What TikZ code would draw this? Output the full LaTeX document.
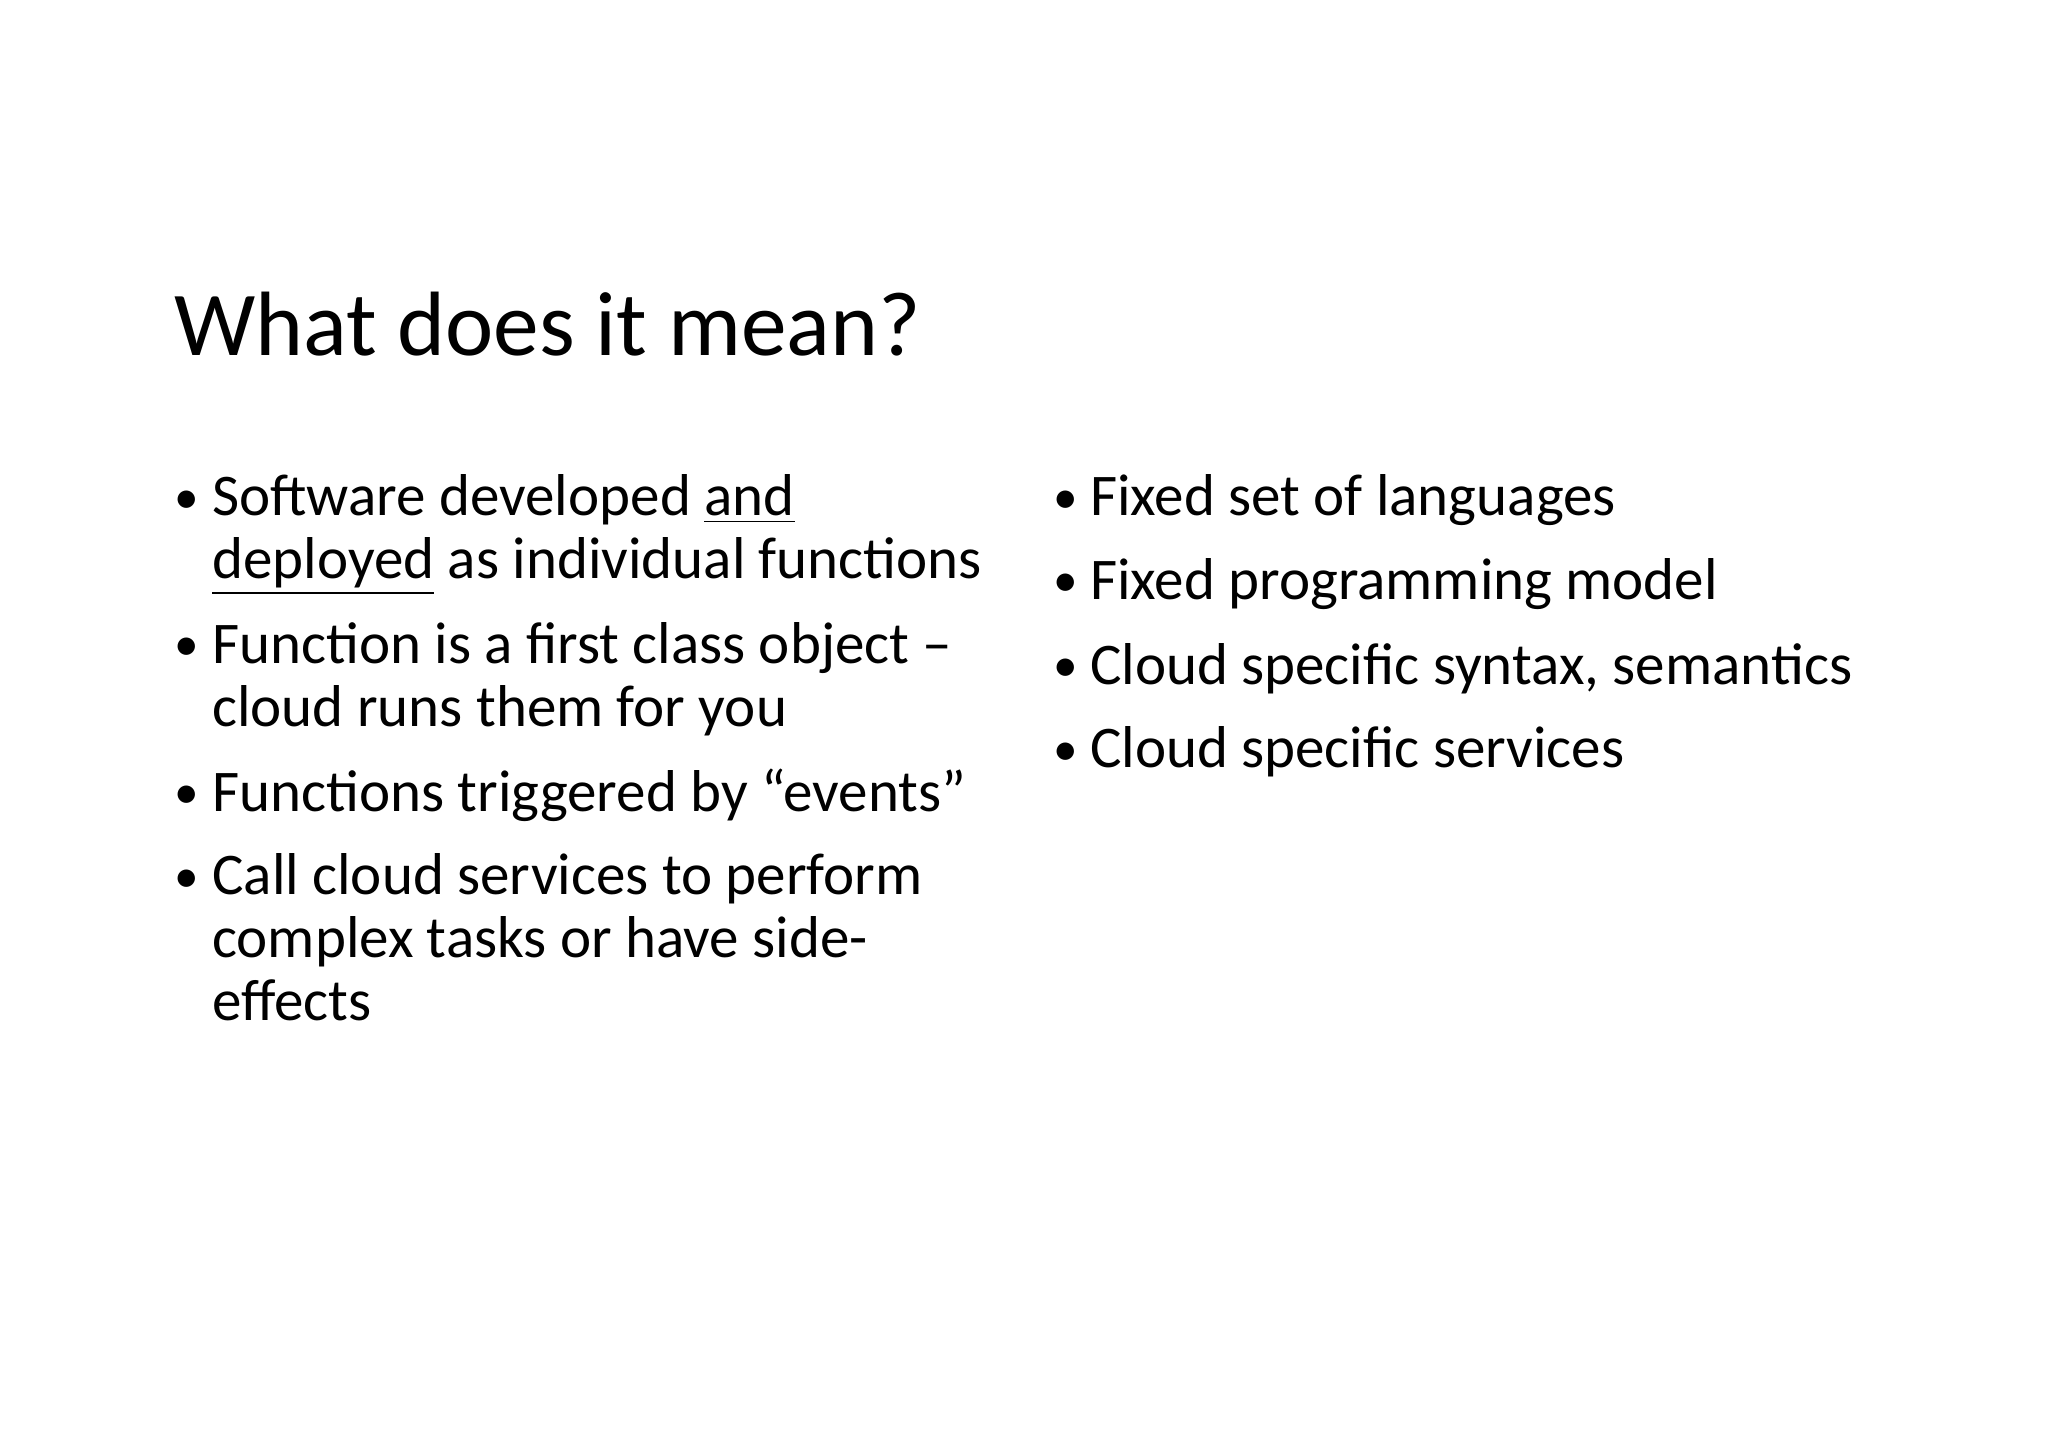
\documentclass[tikz,border=0pt]{standalone}
\usepackage{fontspec}
\setmainfont{Carlito}
\begin{document}
\begin{tikzpicture}[x=0.013061cm,y=-0.013061cm,
  txt/.style={anchor=base west,inner sep=0pt,font=\fontsize{16.8}{16.8}\selectfont},
  bul/.style={anchor=base west,inner sep=0pt,font=\fontsize{14}{14}\selectfont},
  ttl/.style={anchor=base west,inner sep=0pt,font=\fontsize{26}{26}\selectfont}]
\useasboundingbox[fill=white] (0,0) rectangle (1568,1109.4);
\node[ttl] (title) at (133,272) {What does it mean?};
\foreach \n/\y in {b1/393,b2/506,b3/619,b4/683}{\node[bul] (\n) at (133,\y) {•};}
\node[txt] (l1) at (162,395) {Software developed \underline{and}};
\node[txt] (l2) at (162,443) {\underline{deployed} as individual functions};
\node[txt] (l3) at (162,508) {Function is a first class object –};
\node[txt] (l4) at (162,556) {cloud runs them for you};
\node[txt] (l5) at (162,621) {Functions triggered by “events”};
\node[txt] (l6) at (162,685) {Call cloud services to perform};
\node[txt] (l7) at (162,733) {complex tasks or have side-};
\node[txt] (l8) at (162,781) {effects};
\foreach \n/\y in {c1/393,c2/457,c3/522,c4/586}{\node[bul] (\n) at (806,\y) {•};}
\node[txt] (r1) at (834,395) {Fixed set of languages};
\node[txt] (r2) at (834,459) {Fixed programming model};
\node[txt] (r3) at (834,524) {Cloud specific syntax, semantics};
\node[txt] (r4) at (834,588) {Cloud specific services};
\end{tikzpicture}
\end{document}
